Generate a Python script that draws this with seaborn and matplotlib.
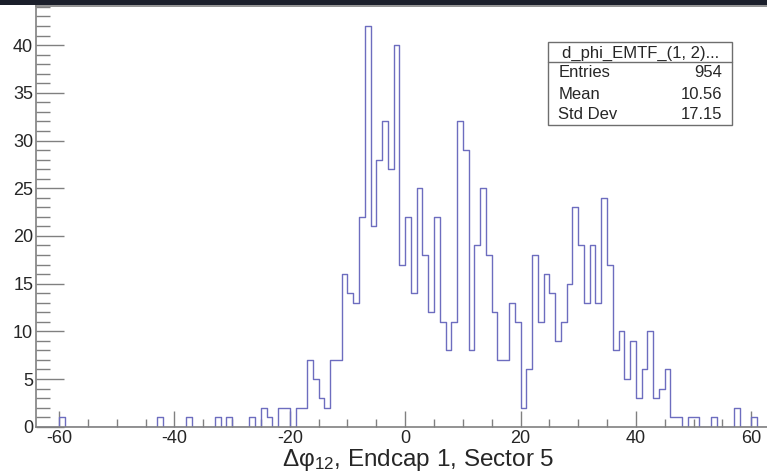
import numpy as np
import pandas as pd
import matplotlib
matplotlib.use("Agg")
import matplotlib.pyplot as plt
import seaborn as sns
from matplotlib.patches import Rectangle
from matplotlib.ticker import MultipleLocator

# Populated bins of d_phi (left bin edge, unit-width bins) and their counts
bin_low = [-60, -43, -38, -33, -31, -27, -25, -24, -22, -21, -19, -18,
           -17, -16, -15, -14, -13, -12, -11, -10, -9,
           -8, -7, -6, -5, -4, -3, -2, -1,
           0, 1, 2, 3, 4, 5, 6, 7, 8, 9, 10, 11, 12, 13, 14, 15, 16, 17, 18, 19,
           20, 21, 22, 23, 24, 25, 26, 27, 28, 29, 30, 31, 32, 33, 34, 35, 36, 37, 38, 39,
           40, 41, 42, 43, 44, 45, 46, 47, 49, 50, 53, 57, 60]
counts = [1, 1, 1, 1, 1, 1, 2, 1, 2, 2, 2, 2,
          7, 5, 3, 2, 7, 7, 16, 14, 13,
          22, 42, 21, 28, 32, 27, 40, 17,
          22, 14, 25, 18, 12, 22, 11, 8, 11, 32, 29, 8, 19, 25, 18, 12, 7, 7, 13, 11,
          2, 6, 18, 11, 16, 14, 9, 11, 15, 23, 19, 13, 19, 13, 24, 17, 8, 10, 5, 9,
          3, 6, 10, 3, 4, 6, 1, 1, 1, 1, 1, 2, 1]

x_range = (-64, 64)
y_max = 44.1
x_label = "Δφ$_{\\mathrm{12}}$, Endcap 1, Sector 5"
stats_title = "d_phi_EMTF_(1, 2)..."
stats_rows = [("Entries", "954"), ("Mean", "10.56"), ("Std Dev", "17.15")]

sns.set_style("white")
plt.rcParams["font.family"] = ["Liberation Sans", "DejaVu Sans"]
plt.rcParams["mathtext.fontset"] = "custom"
plt.rcParams["mathtext.rm"] = "Liberation Sans"
plt.rcParams["mathtext.it"] = "Liberation Sans:italic"
plt.rcParams["axes.unicode_minus"] = False

W, H = 767, 473
fig = plt.figure(figsize=(W / 100, H / 100), dpi=100)
fig.patch.set_facecolor("white")

x0_px, x1_px, y0_px, y1_px = 36, 774.3, 426.7, 6
ax = fig.add_axes([x0_px / W, 1 - y0_px / H, (x1_px - x0_px) / W, (y0_px - y1_px) / H])

df = pd.DataFrame({"dphi": np.asarray(bin_low, dtype=float) + 0.5,
                   "n": np.asarray(counts, dtype=float)})
sns.histplot(data=df, x="dphi", weights="n", binwidth=1, binrange=x_range,
             element="step", fill=False, color="#6d6dbf", linewidth=1.0, ax=ax)

ax.set_xlim(*x_range)
ax.set_ylim(0, y_max)
ax.set_xlabel("")
ax.set_ylabel("")

ax.xaxis.set_major_locator(MultipleLocator(20))
ax.xaxis.set_minor_locator(MultipleLocator(5))
ax.yaxis.set_major_locator(MultipleLocator(5))
ax.yaxis.set_minor_locator(MultipleLocator(1))

axis_grey = "#808080"
ax.tick_params(axis="y", which="major", direction="in", length=20, width=1,
               color=axis_grey, labelsize=13, pad=2, left=True)
ax.tick_params(axis="y", which="minor", direction="in", length=10, width=1,
               color=axis_grey, left=True)
ax.tick_params(axis="x", which="major", direction="in", length=11.5, width=1,
               color=axis_grey, labelsize=13, pad=2.5, bottom=True)
ax.tick_params(axis="x", which="minor", direction="in", length=5.8, width=1,
               color=axis_grey, bottom=True)
for side in ["left", "bottom", "top", "right"]:
    ax.spines[side].set_color(axis_grey)
    ax.spines[side].set_linewidth(1.2)

def fx(px):
    return px / W

def fy(py):
    return 1 - py / H

# dark window strip above the canvas
fig.patches.append(Rectangle((0, fy(5.5)), 1, 5.5 / H, transform=fig.transFigure,
                             facecolor="#1b1f2b", edgecolor="none", zorder=10))

# axis title
fig.text(fx(418), fy(466), x_label, ha="center", va="baseline", fontsize=17.5)

# statistics box
bx0, bx1, by0, by1, bsep = 548.3, 732.3, 41.7, 125.3, 61.7
fig.patches.append(Rectangle((fx(bx0), fy(by1)), fx(bx1) - fx(bx0), fy(by0) - fy(by1),
                             transform=fig.transFigure, facecolor="white",
                             edgecolor="#6e6e6e", linewidth=1.0, zorder=5))
fig.lines.append(plt.Line2D([fx(bx0), fx(bx1)], [fy(bsep), fy(bsep)],
                            transform=fig.transFigure, color="#6e6e6e",
                            linewidth=1.0, zorder=6))
fig.text(fx((bx0 + bx1) / 2), fy(58.3), stats_title, ha="center", va="baseline",
         fontsize=12, zorder=7)
for (name, val), base in zip(stats_rows, [77.3, 99.0, 119.3]):
    fig.text(fx(558.3), fy(base), name, ha="left", va="baseline", fontsize=12, zorder=7)
    fig.text(fx(722.3), fy(base), val, ha="right", va="baseline", fontsize=12, zorder=7)

fig.savefig("out.png", dpi=100)
